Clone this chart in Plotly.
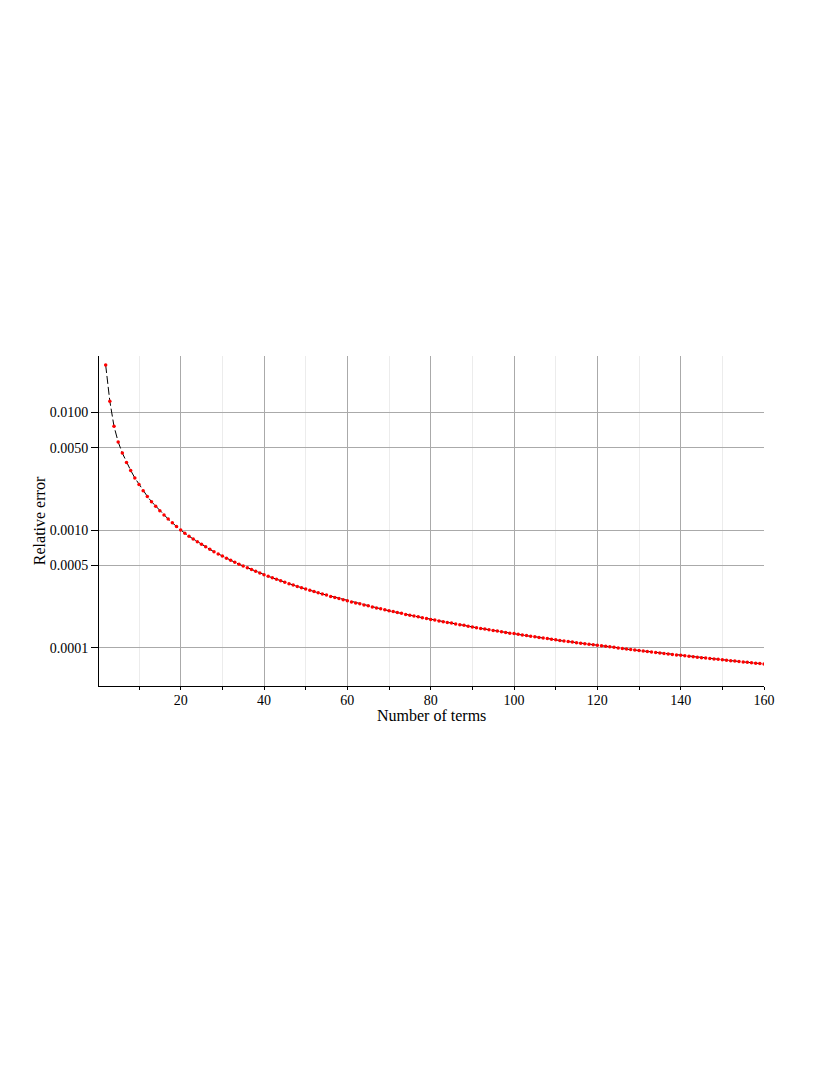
import plotly.graph_objects as go

# number of terms in the expansion
n_terms = list(range(2, 161))

# relative error (n = 2 .. 160)
rel_error = [
    0.0252, 0.0124, 0.00760, 0.00560, 0.00450, 0.00375, 0.00321, 0.00277, 0.00244,
    0.00216, 0.00193, 0.00174, 0.00159, 0.00146, 0.00134, 0.00124, 0.00115, 0.00107,
    0.00100, 0.000938, 0.000885, 0.000839, 0.000795, 0.000756, 0.000719, 0.000685,
    0.000654, 0.000626, 0.000600, 0.000576, 0.000553, 0.000532, 0.000512, 0.000494,
    0.000477, 0.000461, 0.000446, 0.000431, 0.000417, 0.000405, 0.000393, 0.000381,
    0.000370, 0.000360, 0.000350, 0.000341, 0.000332, 0.000323, 0.000315, 0.000308,
    0.000300, 0.000293, 0.000286, 0.000280, 0.000273, 0.000267, 0.000262, 0.000256,
    0.000251, 0.000245, 0.000240, 0.000236, 0.000231, 0.000227, 0.000222, 0.000218,
    0.000214, 0.000210, 0.000206, 0.000203, 0.000199, 0.000196, 0.000192, 0.000189,
    0.000186, 0.000183, 0.000180, 0.000177, 0.000174, 0.000172, 0.000169, 0.000166,
    0.000164, 0.000162, 0.000159, 0.000157, 0.000155, 0.000152, 0.000150, 0.000148,
    0.000146, 0.000144, 0.000142, 0.000140, 0.000139, 0.000137, 0.000135, 0.000133,
    0.000132, 0.000130, 0.000128, 0.000127, 0.000125, 0.000124, 0.000122, 0.000121,
    0.000120, 0.000118, 0.000117, 0.000115, 0.000114, 0.000113, 0.000112, 0.000110,
    0.000109, 0.000108, 0.000107, 0.000106, 0.000105, 0.000104, 0.000103, 0.000102,
    0.000101, 0.0000994, 0.0000984, 0.0000974, 0.0000964, 0.0000955, 0.0000946,
    0.0000937, 0.0000928, 0.0000919, 0.0000910, 0.0000902, 0.0000893, 0.0000885,
    0.0000877, 0.0000869, 0.0000862, 0.0000854, 0.0000846, 0.0000839, 0.0000832,
    0.0000824, 0.0000817, 0.0000810, 0.0000803, 0.0000797, 0.0000790, 0.0000783,
    0.0000777, 0.0000770, 0.0000764, 0.0000758, 0.0000752, 0.0000746, 0.0000740,
    0.0000734, 0.0000728,
]

x_ticks = [20, 40, 60, 80, 100, 120, 140, 160]
y_ticks = [0.0001, 0.0005, 0.001, 0.005, 0.01]
y_tick_text = ['0.0001', '0.0005', '0.0010', '0.0050', '0.0100']

font_family = 'Liberation Serif, DejaVu Serif, serif'

fig = go.Figure()

fig.add_trace(go.Scatter(
    x=n_terms,
    y=rel_error,
    mode='lines+markers',
    line=dict(color='black', width=1, dash='8px,3px'),
    marker=dict(color='#ff0000', size=3.5, line=dict(width=0)),
    showlegend=False,
))

# x title as an annotation so it can sit closer to the tick labels
fig.add_annotation(
    text='Number of terms',
    xref='paper', yref='paper', x=0.5, y=0,
    xanchor='center', yanchor='top', yshift=-19,
    showarrow=False,
    font=dict(family=font_family, size=16, color='black'),
)

# the page body has an 8px margin, margins below take that into account
fig.update_layout(
    width=830,
    height=1074,
    margin=dict(l=91, r=74, t=348, b=396),
    plot_bgcolor='white',
    paper_bgcolor='white',
    font=dict(family=font_family, size=14, color='black'),
    xaxis=dict(
        range=[0.4, 160],
        tickvals=x_ticks,
        ticks='outside',
        ticklen=3,
        tickcolor='black',
        ticklabelstandoff=-2,
        showline=True,
        linecolor='black',
        linewidth=1,
        showgrid=True,
        gridcolor='#aaaaaa',
        gridwidth=1,
        zeroline=False,
        minor=dict(dtick=10, tick0=0, ticks='outside', ticklen=3,
                   tickcolor='black', showgrid=True, gridcolor='#ececec'),
    ),
    yaxis=dict(
        type='log',
        range=[-4.325, -1.522],
        tickvals=y_ticks,
        ticktext=y_tick_text,
        ticks='outside',
        ticklen=7,
        tickcolor='black',
        showline=True,
        linecolor='black',
        linewidth=1,
        showgrid=True,
        gridcolor='#aaaaaa',
        gridwidth=1,
        zeroline=False,
        title=dict(text='Relative error', standoff=0,
                   font=dict(family=font_family, size=16)),
    ),
)

fig.write_html("out.html")
